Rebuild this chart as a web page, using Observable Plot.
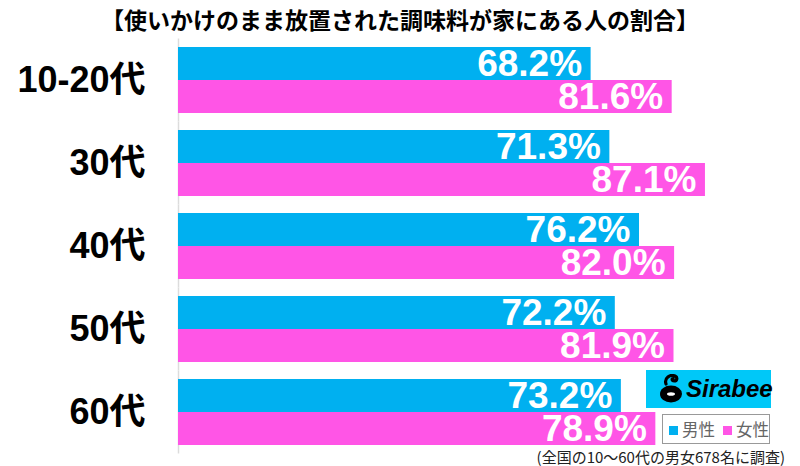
<!DOCTYPE html>
<html>
<head>
<meta charset="utf-8">
<script src="https://cdn.jsdelivr.net/npm/d3@7"></script>
<script src="https://cdn.jsdelivr.net/npm/@observablehq/plot@0.6"></script>
<style>
  html, body { margin: 0; padding: 0; background: #fff; }
  #wrap { position: relative; width: 800px; height: 466px; overflow: hidden; font-family: "Noto Sans CJK JP", sans-serif; }
  #title { height: 37px; line-height: 38px; text-align: center; font-size: 23px; font-weight: bold; color: #000; white-space: nowrap; }
  #caption { position: absolute; right: 15px; top: 447px; font-size: 15px; line-height: 20px; color: #222; white-space: nowrap; }
  #legend { position: absolute; left: 662px; top: 414px; width: 106px; height: 28px; border: 1.5px solid #999; background: #fff; font-size: 16.5px; line-height: 28px; color: #666; white-space: nowrap; }
  #legend .sq { display: inline-block; width: 9px; height: 9px; margin: 0 4px 0 6px; vertical-align: 1px; }
  #logo { position: absolute; left: 646px; top: 370px; width: 125px; height: 38px; background: #00C8F8; }
  #logo .txt { position: absolute; left: 40px; top: 3px; font-family: "Liberation Sans", Arial, sans-serif; font-weight: bold; font-style: italic; font-size: 24px; line-height: 32px; color: #000; }
  #logo svg { position: absolute; left: 12px; top: 4px; }
</style>
</head>
<body>
<div id="wrap">
  <div id="title">【使いかけのまま放置された調味料が家にある人の割合】</div>
  <div id="chart"></div>
  <div id="logo">
    <svg width="28" height="30" viewBox="0 0 28 30">
      <path d="M8 10 C6 4 12 0 17 2 C20 3.5 19 7 16 7 C14 7 13.5 5 15 4.5" fill="none" stroke="#000" stroke-width="3.2" stroke-linecap="round"/>
      <ellipse cx="13" cy="20" rx="11" ry="8.5" fill="#000"/>
      <ellipse cx="13" cy="20" rx="4" ry="1.8" fill="#fff"/>
    </svg>
    <div class="txt">Sirabee</div>
  </div>
  <div id="legend"><span class="sq" style="background:#00B0F0"></span>男性<span class="sq" style="background:#FF55E6;margin-left:8px"></span>女性</div>
  <div id="caption">(全国の10〜60代の男女678名に調査)</div>
</div>
<script>
const ages = ["10-20代", "30代", "40代", "50代", "60代"];
const sexes = ["男性", "女性"];
const male = [68.2, 71.3, 76.2, 72.2, 73.2];
const female = [81.6, 87.1, 82.0, 81.9, 78.9];
const colors = ["#00B0F0", "#FF55E6"];

const data = ages.flatMap((a, i) => [
  {age: a, sex: sexes[0], value: male[i]},
  {age: a, sex: sexes[1], value: female[i]}
]);

const chart = Plot.plot({
  width: 800,
  height: 429,
  marginTop: 8,
  marginBottom: 18,
  marginLeft: 178,
  marginRight: 17,
  style: {fontFamily: "'Liberation Sans', Arial, 'Noto Sans CJK JP', sans-serif", background: "transparent", color: "#000"},
  x: {domain: [0, 100], axis: null},
  y: {domain: sexes, axis: null, padding: 0},
  fy: {domain: ages, paddingInner: 0.2, paddingOuter: 0, label: null},
  color: {domain: sexes, range: colors},
  marks: [
    Plot.ruleX([0], {stroke: "#dcdcdc", strokeWidth: 1.5, insetTop: -8.5, insetBottom: -8.5}),
    Plot.barX(data, {x: "value", y: "sex", fy: "age", fill: "sex"}),
    Plot.text(data, {
      x: "value", y: "sex", fy: "age",
      text: d => d.value.toFixed(1) + "%",
      textAnchor: "end", dx: -9,
      fill: "white", fontSize: 37, fontWeight: "bold",
      fontFamily: "'Liberation Sans', Arial, sans-serif"
    }),
    Plot.axisFy({anchor: "left", tickSize: 0, tickPadding: 33, fontSize: 36, fontWeight: "bold", label: null, fill: "#000"})
  ]
});
document.getElementById("chart").appendChild(chart);
</script>
</body>
</html>
